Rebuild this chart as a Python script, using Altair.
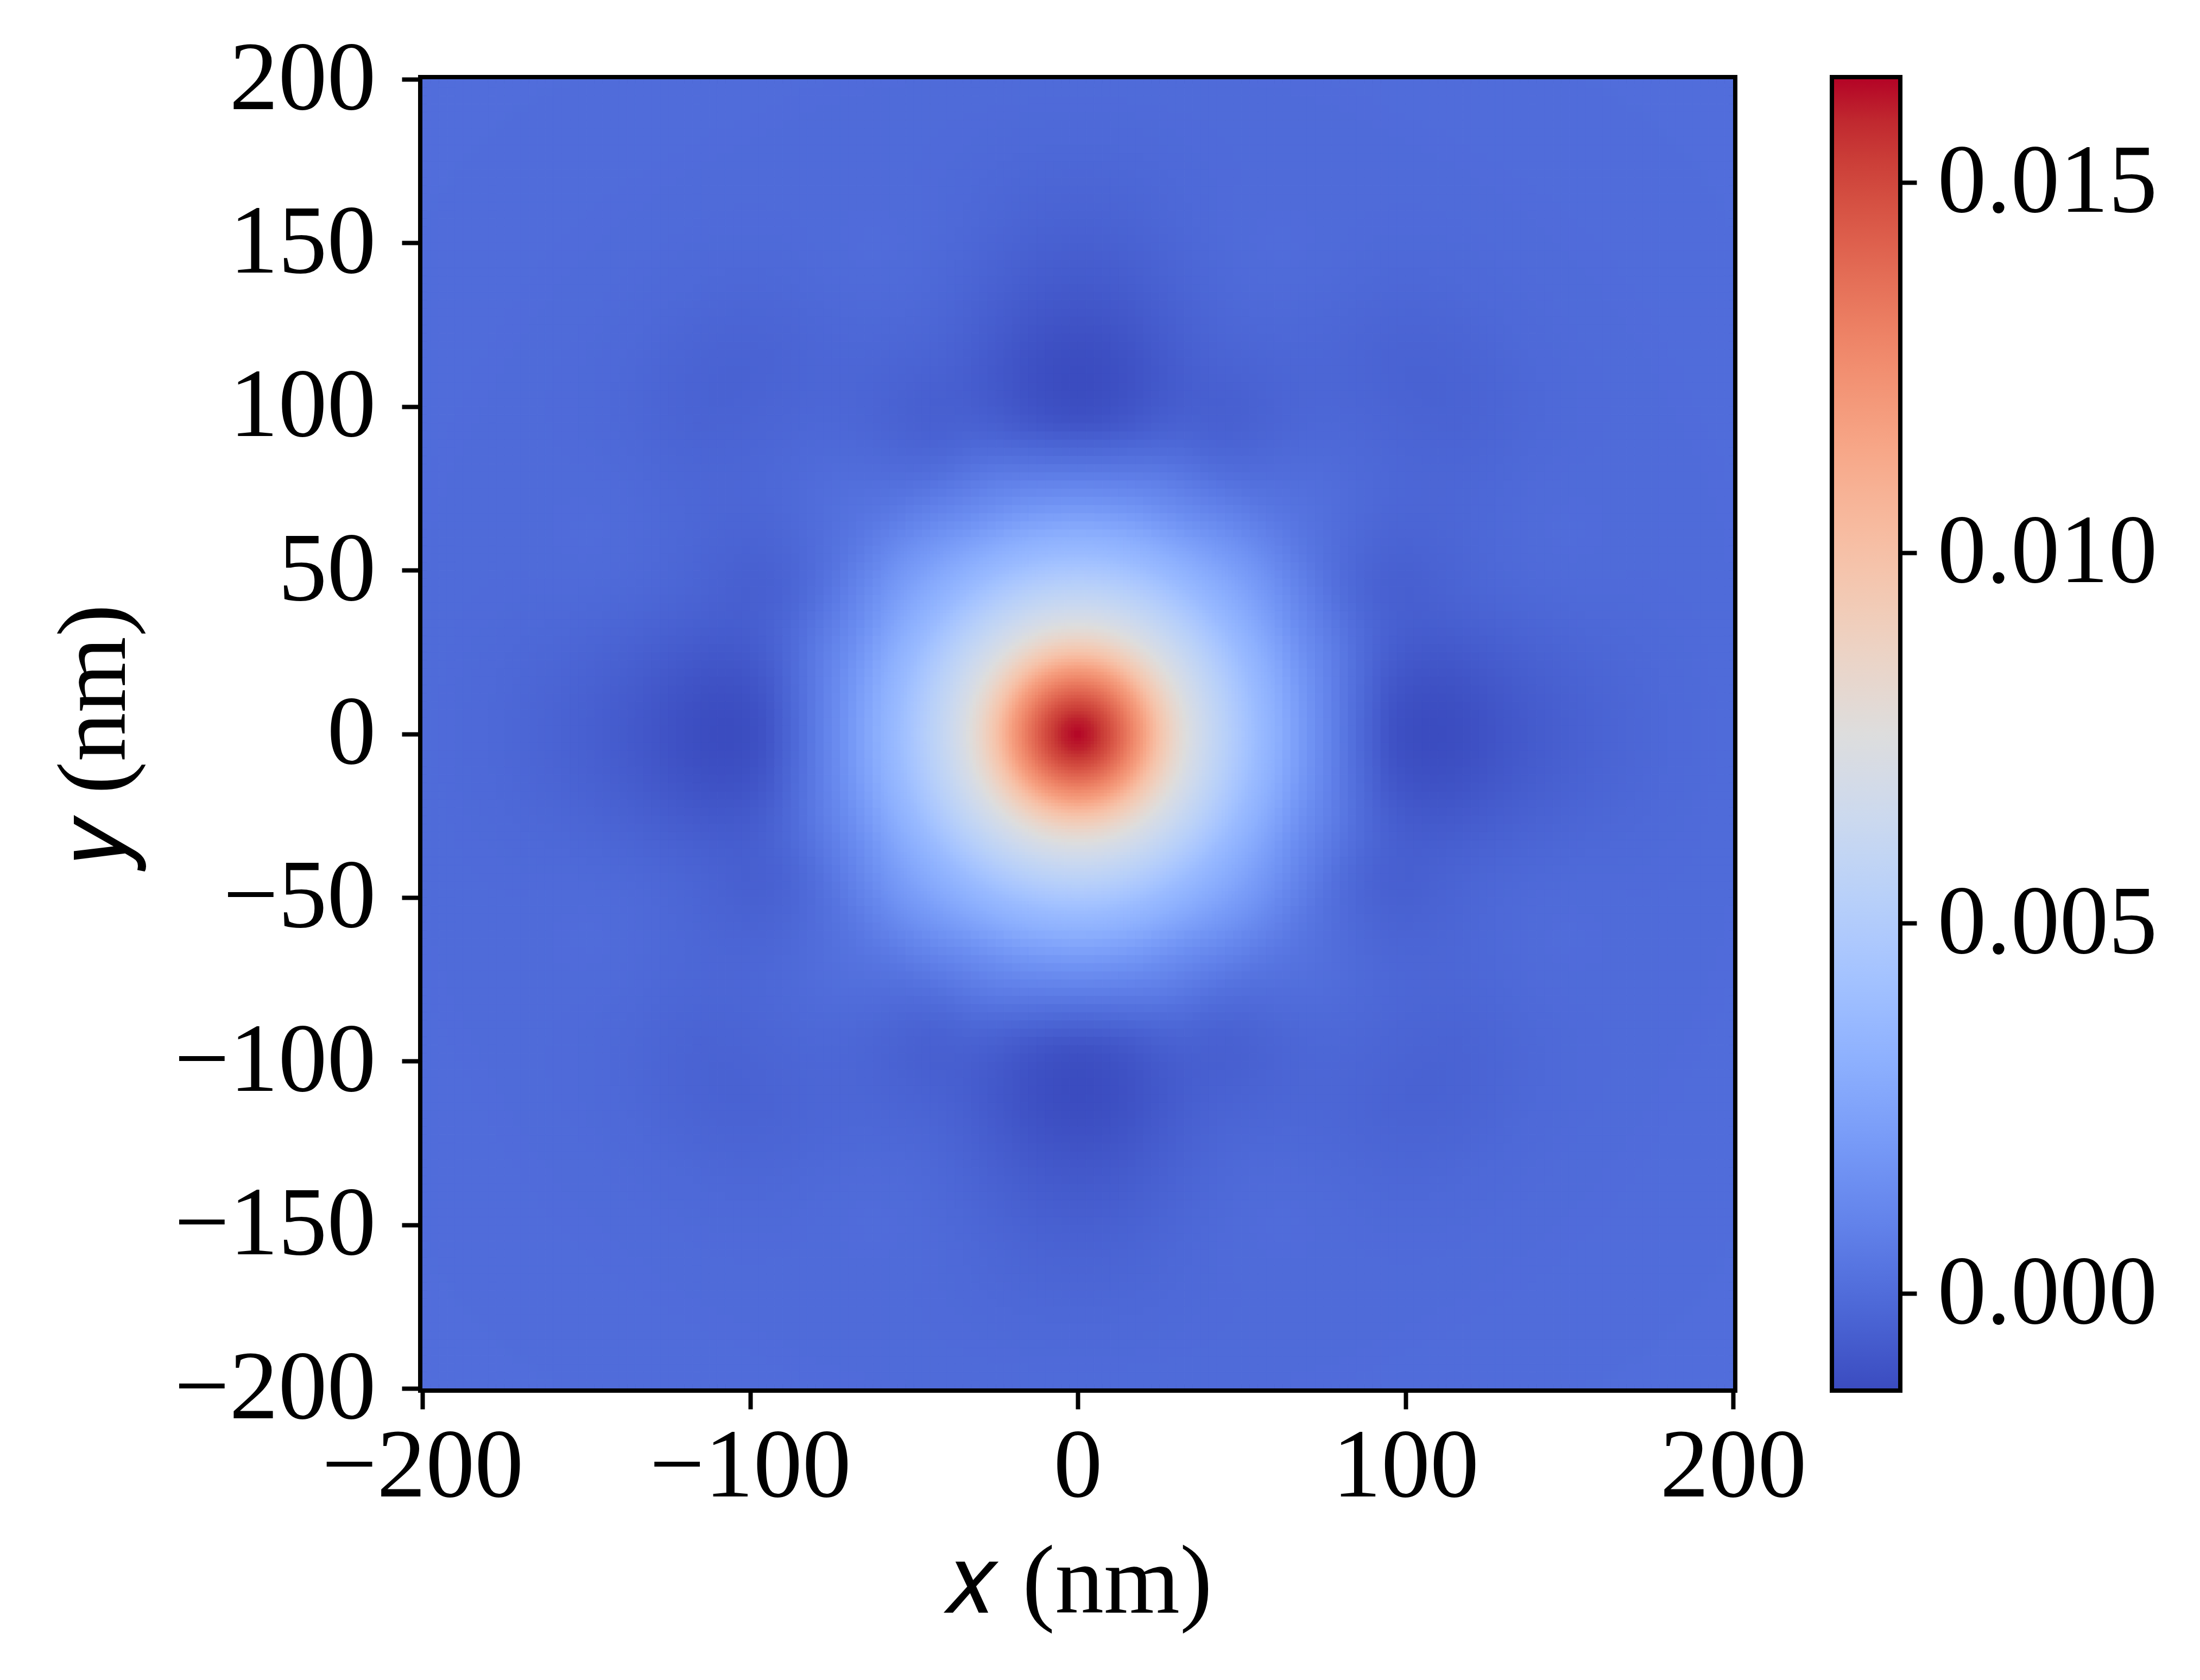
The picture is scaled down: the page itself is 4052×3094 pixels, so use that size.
import numpy as np
import pandas as pd
import altair as alt

alt.data_transformers.disable_max_rows()

# ---------------- data ----------------
X_TICKS = [-200, -100, 0, 100, 200]
Y_TICKS = [-200, -150, -100, -50, 0, 50, 100, 150, 200]
CBAR_TICKS = [0.000, 0.005, 0.010, 0.015]
VMIN, VMAX = -0.00128, 0.01639

# radial profiles (nm -> value) read along three directions
RADII = [0, 5, 10, 15, 20, 25, 30, 35, 40, 45, 50, 55, 60, 65, 70, 75, 80, 85,
         90, 95, 100, 105, 110, 115, 120, 130, 140, 150, 160, 170, 180, 200, 240, 290]
PROFILE_AXIS = [0.01639, 0.01590, 0.01480, 0.01340, 0.01180, 0.00980, 0.00830, 0.00710,
                0.00620, 0.00540, 0.00460, 0.00380, 0.00320, 0.00250, 0.00180, 0.00120,
                0.00060, 0.00000, -0.00050, -0.00100, -0.00120, -0.00128, -0.00128,
                -0.00124, -0.00115, -0.00090, -0.00068, -0.00050, -0.00036, -0.00025,
                -0.00015, -0.00004, 0.00003, 0.00005]
PROFILE_MID = [0.01639, 0.01590, 0.01480, 0.01340, 0.01180, 0.00980, 0.00830, 0.00710,
               0.00620, 0.00540, 0.00460, 0.00380, 0.00320, 0.00255, 0.00190, 0.00135,
               0.00090, 0.00050, 0.00010, -0.00020, -0.00040, -0.00050, -0.00052,
               -0.00048, -0.00040, -0.00026, -0.00014, -0.00006, -0.00002, -0.00003,
               -0.00005, -0.00005, 0.00002, 0.00005]
PROFILE_DIAG = [0.01639, 0.01590, 0.01480, 0.01340, 0.01180, 0.00980, 0.00830, 0.00710,
                0.00620, 0.00540, 0.00460, 0.00380, 0.00320, 0.00270, 0.00215, 0.00170,
                0.00120, 0.00080, 0.00050, 0.00030, 0.00018, 0.00008, 0.00000,
                -0.00008, -0.00014, -0.00025, -0.00035, -0.00042, -0.00038, -0.00028,
                -0.00016, -0.00005, 0.00000, 0.00005]

COOLWARM = ["#3b4cc0", "#445acc", "#4d68d7", "#5775e1", "#6282ea", "#6c8ef1", "#779af7",
            "#82a5fb", "#8db0fe", "#98b9ff", "#a3c2ff", "#aec9fd", "#b8d0f9", "#c2d5f4",
            "#ccd9ee", "#d5dbe6", "#dddddd", "#e5d8d1", "#ecd3c5", "#f1ccb8", "#f5c4ac",
            "#f7bba0", "#f7b194", "#f7a687", "#f49a7b", "#f18d6f", "#ec7f63", "#e57058",
            "#de604d", "#d55042", "#cb3e38", "#c0282f", "#b40426"]


# ---------------- build the grid from the profiles ----------------
def field(xc, yc):
    r = np.hypot(xc, yc)
    theta = np.degrees(np.arctan2(np.abs(yc), np.abs(xc)))
    phi = np.minimum(theta, 90 - theta)  # fold into 0..45 degrees
    pa = np.interp(r, RADII, PROFILE_AXIS)
    pm = np.interp(r, RADII, PROFILE_MID)
    pdg = np.interp(r, RADII, PROFILE_DIAG)
    s1 = (1 - np.cos(np.pi * np.clip(phi / 22.5, 0, 1))) / 2
    s2 = (1 - np.cos(np.pi * np.clip((phi - 22.5) / 22.5, 0, 1))) / 2
    return np.where(phi <= 22.5, pa + (pm - pa) * s1, pm + (pdg - pm) * s2)


def cells(lo, hi, step, hole=None):
    e = np.arange(lo, hi, step)
    xl, yl = np.meshgrid(e, e)
    xl, yl = xl.ravel(), yl.ravel()
    if hole is not None:
        keep = ~((xl >= -hole) & (xl + step <= hole) & (yl >= -hole) & (yl + step <= hole))
        xl, yl = xl[keep], yl[keep]
    v = field(xl + step / 2, yl + step / 2)
    return pd.DataFrame({"xl": xl, "yl": yl, "s": step, "v": np.round(v, 6)})


INNER = 60
df = pd.concat([cells(-200, 200, 2.5, hole=INNER), cells(-INNER, INNER, 1.0)],
               ignore_index=True)

FONT = "Liberation Serif"
FS = 180
W = 2414
H = 2411

dom_pts = list(np.linspace(VMIN, VMAX, len(COOLWARM)))
cscale = alt.Scale(type="linear", domain=dom_pts, range=COOLWARM, interpolate="rgb", clamp=True)

heat = alt.Chart(df).mark_rect(strokeWidth=1.0, clip=True).transform_calculate(
    xr="datum.xl + datum.s", yr="datum.yl + datum.s"
).encode(
    x=alt.X("xl:Q", scale=alt.Scale(domain=[-200, 200], nice=False, zero=False),
            axis=alt.Axis(values=X_TICKS, title="𝑥 (nm)", labelFlush=False,
                          labelOverlap=False, labelPadding=18, titlePadding=70)),
    x2="xr:Q",
    y=alt.Y("yl:Q", scale=alt.Scale(domain=[-200, 200], nice=False, zero=False),
            axis=alt.Axis(values=Y_TICKS, title="𝑦 (nm)", labelOverlap=False,
                          labelPadding=48, titlePadding=311)),
    y2="yr:Q",
    color=alt.Color("v:Q", scale=cscale, legend=None),
    stroke=alt.Stroke("v:Q", scale=cscale, legend=None),
).properties(width=W, height=H)

grad = alt.LinearGradient(
    gradient="linear",
    stops=[alt.GradientStop(color=c, offset=i / (len(COOLWARM) - 1)) for i, c in enumerate(COOLWARM)],
    x1=0, x2=0, y1=1, y2=0,
)
cb_df = pd.DataFrame({"lo": [VMIN], "hi": [VMAX]})
cbar = alt.Chart(cb_df).mark_rect(fill=grad).encode(
    y=alt.Y("lo:Q", scale=alt.Scale(domain=[VMIN, VMAX], nice=False, zero=False),
            axis=alt.Axis(orient="right", values=CBAR_TICKS, format=".3f", title=None,
                          labelOverlap=False, labelPadding=38, tickSize=34)),
    y2="hi:Q",
).properties(width=118, height=H)

chart = alt.hconcat(heat, cbar, spacing=186, bounds="flush").properties(
    padding={"left": 69, "top": 40, "right": 10, "bottom": 10}
).configure_view(
    stroke="black", strokeWidth=16
).configure_axis(
    labelFont=FONT, titleFont=FONT, labelFontSize=FS, titleFontSize=FS,
    titleFontWeight="normal", labelColor="black", titleColor="black",
    tickColor="black", tickWidth=8, tickSize=38, domain=False, grid=False,
    labelLimit=2000, titleLimit=4000,
)

chart.save("out.html", embed_options={"renderer": "svg", "actions": False})
